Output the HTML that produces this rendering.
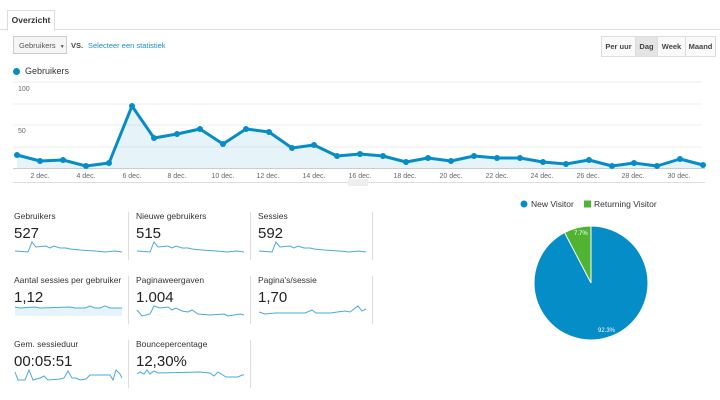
<!DOCTYPE html><html><head><style>
body{margin:0;width:720px;height:400px;background:#fff;font-family:"Liberation Sans",sans-serif;position:relative;overflow:hidden;color:#333}
.a{position:absolute}
</style></head><body>
<div class="a" style="left:0;top:29px;width:720px;height:1px;background:#ddd"></div>
<div class="a" style="left:7px;top:10px;width:46px;height:19px;border:1px solid #ddd;border-bottom:1px solid #fff;background:#fff;font-size:8.5px;font-weight:bold;line-height:19px;text-align:center">Overzicht</div>
<div class="a" style="left:13px;top:36px;width:54px;height:18px;border:1px solid #ccc;background:#f5f5f5;font-size:7.5px;color:#555;line-height:18px;padding-left:5px;box-sizing:border-box;white-space:nowrap">Gebruikers <span style="font-size:5px;margin-left:2px">▼</span></div>
<div class="a" style="left:71px;top:41px;font-size:7.5px;font-weight:bold;color:#444">VS.</div>
<div class="a" style="left:88px;top:41px;font-size:7.5px;color:#1a8bd1">Selecteer een statistiek</div>
<div class="a" style="left:601px;top:36px;width:113px;height:19px;border:1px solid #ddd;display:flex;font-size:7.5px;font-weight:bold;color:#444;line-height:19px;background:#fafafa">
<div style="width:33px;text-align:center;border-right:1px solid #ddd">Per uur</div><div style="width:21px;text-align:center;background:#e4e4e4;border-right:1px solid #ddd">Dag</div><div style="width:27px;text-align:center;border-right:1px solid #ddd">Week</div><div style="flex:1;text-align:center">Maand</div></div>
<div class="a" style="left:13px;top:68px;width:7px;height:7px;border-radius:50%;background:#058dc7"></div>
<div class="a" style="left:25px;top:66px;font-size:9px;color:#333">Gebruikers</div>
<svg class="a" style="left:0;top:0" width="720" height="200">
<g stroke="#eee" stroke-width="1"><line x1="13" y1="82" x2="702" y2="82"/><line x1="13" y1="104" x2="702" y2="104"/><line x1="13" y1="125" x2="702" y2="125"/><line x1="13" y1="147" x2="702" y2="147"/></g>
<line x1="13" y1="168.5" x2="705" y2="168.5" stroke="#ccc"/>
<line x1="13" y1="182.5" x2="705" y2="182.5" stroke="#ddd"/>
<rect x="348" y="179" width="20" height="7" fill="#eee"/>
<text x="18" y="91" font-size="7" fill="#666" font-family="Liberation Sans">100</text>
<text x="18" y="133" font-size="7" fill="#666" font-family="Liberation Sans">50</text>
<g font-size="7" fill="#666" font-family="Liberation Sans" text-anchor="middle">
<text x="40" y="178">2 dec.</text><text x="86" y="178">4 dec.</text><text x="132" y="178">6 dec.</text><text x="177" y="178">8 dec.</text><text x="223" y="178">10 dec.</text><text x="268" y="178">12 dec.</text><text x="314" y="178">14 dec.</text><text x="360" y="178">16 dec.</text><text x="405" y="178">18 dec.</text><text x="451" y="178">20 dec.</text><text x="497" y="178">22 dec.</text><text x="542" y="178">24 dec.</text><text x="588" y="178">26 dec.</text><text x="633" y="178">28 dec.</text><text x="679" y="178">30 dec.</text></g>
<polygon fill="#058dc7" fill-opacity="0.1" points="17,168 17,155 40,161 63,160 86,166 109,163 132,106 154,138 177,134 200,129 223,144 246,129 269,132 292,148 314,145 337,156 360,154 383,156 406,162 428,158 451,161 474,156 497,158 520,158 543,162 566,164 589,160 612,166 634,163 657,166 680,159 703,165 703,168"/>
<polyline fill="none" stroke="#058dc7" stroke-width="3" stroke-linejoin="round" points="17,155 40,161 63,160 86,166 109,163 132,106 154,138 177,134 200,129 223,144 246,129 269,132 292,148 314,145 337,156 360,154 383,156 406,162 428,158 451,161 474,156 497,158 520,158 543,162 566,164 589,160 612,166 634,163 657,166 680,159 703,165"/>
<g fill="#058dc7"><circle cx="17" cy="155" r="3"/><circle cx="40" cy="161" r="3"/><circle cx="63" cy="160" r="3"/><circle cx="86" cy="166" r="3"/><circle cx="109" cy="163" r="3"/><circle cx="132" cy="106" r="3"/><circle cx="154" cy="138" r="3"/><circle cx="177" cy="134" r="3"/><circle cx="200" cy="129" r="3"/><circle cx="223" cy="144" r="3"/><circle cx="246" cy="129" r="3"/><circle cx="269" cy="132" r="3"/><circle cx="292" cy="148" r="3"/><circle cx="314" cy="145" r="3"/><circle cx="337" cy="156" r="3"/><circle cx="360" cy="154" r="3"/><circle cx="383" cy="156" r="3"/><circle cx="406" cy="162" r="3"/><circle cx="428" cy="158" r="3"/><circle cx="451" cy="161" r="3"/><circle cx="474" cy="156" r="3"/><circle cx="497" cy="158" r="3"/><circle cx="520" cy="158" r="3"/><circle cx="543" cy="162" r="3"/><circle cx="566" cy="164" r="3"/><circle cx="589" cy="160" r="3"/><circle cx="612" cy="166" r="3"/><circle cx="634" cy="163" r="3"/><circle cx="657" cy="166" r="3"/><circle cx="680" cy="159" r="3"/><circle cx="703" cy="165" r="3"/></g>
</svg>
<svg class="a" style="left:0;top:200px" width="720" height="200" font-family="Liberation Sans">
<g stroke="#ddd"><line x1="128.5" y1="12" x2="128.5" y2="60"/><line x1="250.5" y1="12" x2="250.5" y2="60"/><line x1="372.5" y1="12" x2="372.5" y2="60"/>
<line x1="128.5" y1="76" x2="128.5" y2="124"/><line x1="250.5" y1="76" x2="250.5" y2="124"/><line x1="372.5" y1="76" x2="372.5" y2="124"/>
<line x1="128.5" y1="140" x2="128.5" y2="188"/><line x1="250.5" y1="140" x2="250.5" y2="188"/></g>
<g font-size="8.5" fill="#333"><text x="14" y="19">Gebruikers</text><text x="136" y="19">Nieuwe gebruikers</text><text x="258" y="19">Sessies</text>
<text x="14" y="83">Aantal sessies per gebruiker</text><text x="136" y="83">Paginaweergaven</text><text x="258" y="83">Pagina's/sessie</text>
<text x="14" y="147">Gem. sessieduur</text><text x="136" y="147">Bouncepercentage</text></g>
<g font-size="15" fill="#222"><text x="14" y="38">527</text><text x="136" y="38">515</text><text x="258" y="38">592</text>
<text x="14" y="102">1,12</text><text x="136" y="102">1.004</text><text x="258" y="102">1,70</text>
<text x="14" y="166">00:05:51</text><text x="136" y="166">12,30%</text></g>
<g fill="#058dc7" fill-opacity="0.1" stroke="#4ba9dc" stroke-width="1">
<polyline fill="none" points="15,51 28,52 32,42 36,47 46,46 50,48 54,46 60,48 66,48 70,49 80,50 95,51 105,52 115,51 122,52"/>
<polyline fill="none" points="137,51 150,52 154,42 158,47 168,46 172,48 176,46 182,48 188,48 192,49 202,50 217,51 227,52 237,51 244,52"/>
<polyline fill="none" points="259,51 272,52 276,42 280,47 290,46 294,48 298,46 304,48 310,48 314,49 324,50 339,51 349,52 359,51 366,52"/>
<polygon points="15,107 15,116 122,116 122,108 95,108 90,106 85,108 75,108 70,107 40,108 35,107 20,108" stroke="none"/>
<polyline fill="none" points="15,107 20,108 35,107 40,108 70,107 75,108 85,108 90,106 95,108 100,108 105,106 110,108 122,108"/>
<polyline fill="none" points="137,110 142,116 150,114 154,106 160,108 168,107 172,110 176,108 182,111 188,112 192,110 198,114 210,115 224,114 228,116 240,114 244,115"/>
<polyline fill="none" points="259,112 265,114 275,113 305,113 312,110 316,113 330,113 345,111 350,112 358,106 362,111 366,109"/>
<polyline fill="none" points="15,172 18,180 25,180 29,170 33,180 40,178 44,176 48,180 60,179 64,178 68,171 72,178 76,178 80,180 86,179 90,175 110,175 113,180 116,170 120,174 122,178"/>
<polyline fill="none" points="137,174 140,172 144,174 147,170 150,174 154,171 158,173 200,172 210,173 214,176 218,172 226,177 238,177 242,175 244,175"/>
</g>
<g font-size="8.5" fill="#333"><circle cx="524" cy="4" r="3.5" fill="#058dc7"/><text x="531" y="7">New Visitor</text>
<rect x="584" y="0.5" width="7" height="7" fill="#50b432"/><text x="594" y="7">Returning Visitor</text></g>
<circle cx="591" cy="83" r="57" fill="#058dc7" stroke="#fff"/>
<path d="M591,83 L591,26 A57,57 0 0,0 564.5,32.5 Z" fill="#50b432" stroke="#fff"/>
<text x="574" y="35" font-size="6" fill="#fff">7.7%</text>
<text x="598" y="132" font-size="6" fill="#fff">92.3%</text>
</svg>
</body></html>
